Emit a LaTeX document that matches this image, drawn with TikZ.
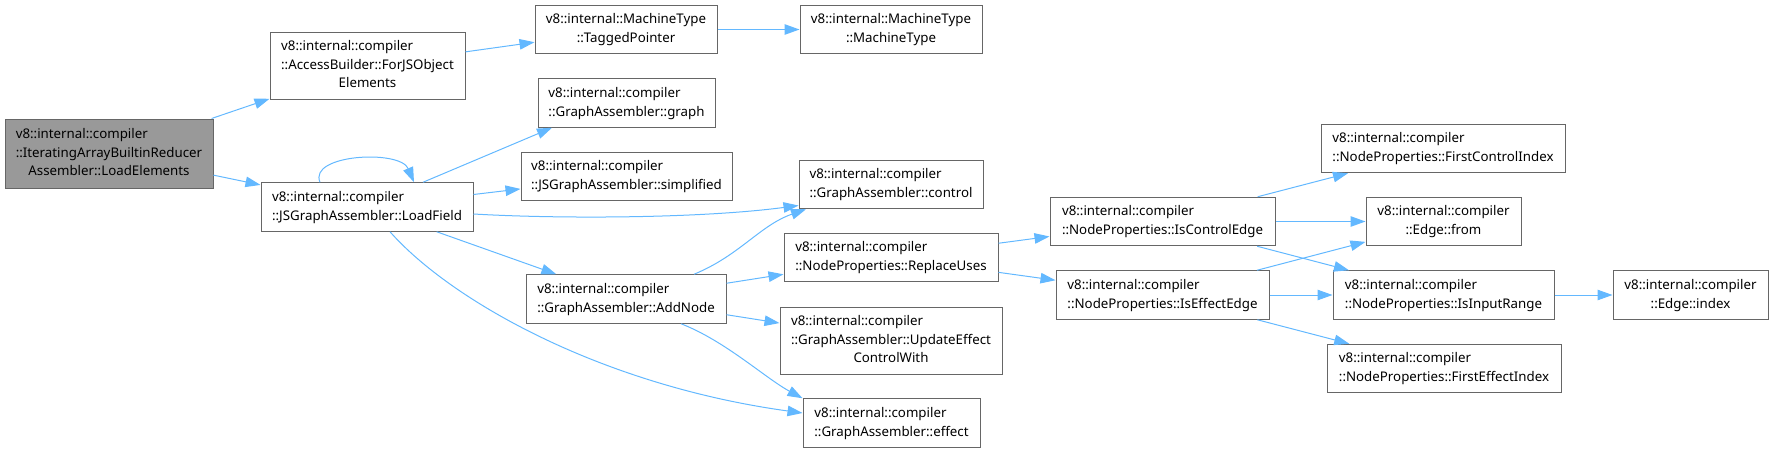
\documentclass[tikz,border=0pt]{standalone}
\usepackage{fontspec}
\setmainfont{Noto Sans}
\usepackage{xcolor}
\usepackage{tikz}
\usetikzlibrary{arrows.meta, calc}
\definecolor{callblue}{RGB}{99,184,255}
\definecolor{boxgray}{RGB}{102,102,102}
\definecolor{focusgray}{RGB}{153,153,153}
% label: all lines left, last one centred
\newcommand{\fname}[2]{\begin{tabular}{@{}l@{}}#1\\\multicolumn{1}{@{}c@{}}{#2}\end{tabular}}
\newcommand{\fnamethree}[3]{\begin{tabular}{@{}l@{}}#1\\#2\\\multicolumn{1}{@{}c@{}}{#3}\end{tabular}}
\tikzset{
  func/.style={
    rectangle, draw=boxgray, line width=1pt, fill=white,
    inner xsep=4pt, inner ysep=0pt, minimum height=48.5pt,
    font=\fontsize{13.3pt}{18.6pt}\selectfont
  },
  func3/.style={func, minimum height=67pt},
  focus/.style={fill=focusgray},
  call/.style={draw=callblue, line width=1pt, -{Triangle[length=15pt,width=10.5pt]}},
  every edge/.style={call},
}

\begin{document}
\begin{tikzpicture}[x=1pt, y=-1pt]
  \useasboundingbox (0,0) rectangle (1773,453);

  \node[func3, focus, minimum width=208pt, minimum height=69pt] (LOADELEM) at (109,153.5)
    {\fnamethree{v8::internal::compiler}{::IteratingArrayBuiltinReducer}{Assembler::LoadElements}};
  \node[func3, minimum width=195pt] (FORJSOBJ) at (367.5,65.5)
    {\fnamethree{v8::internal::compiler}{::AccessBuilder::ForJSObject}{Elements}};
  \node[func, minimum width=212pt] (LOADFIELD) at (367,207)
    {\fname{v8::internal::compiler}{::JSGraphAssembler::LoadField}};

  \node[func, minimum width=182pt] (TAGPTR) at (626,29.5)
    {\fname{v8::internal::MachineType}{::TaggedPointer}};
  \node[func, minimum width=177pt] (GRAPH) at (626.5,103)
    {\fname{v8::internal::compiler}{::GraphAssembler::graph}};
  \node[func, minimum width=211pt] (SIMPL) at (626.5,176.5)
    {\fname{v8::internal::compiler}{::JSGraphAssembler::simplified}};
  \node[func, minimum width=200pt] (ADDNODE) at (626,299)
    {\fname{v8::internal::compiler}{::GraphAssembler::AddNode}};

  \node[func, minimum width=182pt] (MTYPE) at (891,29.5)
    {\fname{v8::internal::MachineType}{::MachineType}};
  \node[func, minimum width=184pt] (CONTROL) at (891,184.5)
    {\fname{v8::internal::compiler}{::GraphAssembler::control}};
  \node[func, minimum width=214pt] (REPLACE) at (891,257.5)
    {\fname{v8::internal::compiler}{::NodeProperties::ReplaceUses}};
  \node[func3, minimum width=222pt] (UPDATE) at (891,340.5)
    {\fnamethree{v8::internal::compiler}{::GraphAssembler::UpdateEffect}{ControlWith}};
  \node[func, minimum width=177pt] (EFFECT) at (891.5,423)
    {\fname{v8::internal::compiler}{::GraphAssembler::effect}};

  \node[func, minimum width=225pt] (ISCTRL) at (1162.5,221.5)
    {\fname{v8::internal::compiler}{::NodeProperties::IsControlEdge}};
  \node[func, minimum width=213pt] (ISEFF) at (1162.5,295)
    {\fname{v8::internal::compiler}{::NodeProperties::IsEffectEdge}};

  \node[func, minimum width=244pt] (FIRSTCTRL) at (1443,148.5)
    {\fname{v8::internal::compiler}{::NodeProperties::FirstControlIndex}};
  \node[func, minimum width=155pt] (FROM) at (1443.5,221.5)
    {\fname{v8::internal::compiler}{::Edge::from}};
  \node[func, minimum width=221pt] (ISINPUT) at (1443.5,295)
    {\fname{v8::internal::compiler}{::NodeProperties::IsInputRange}};
  \node[func, minimum width=234pt] (FIRSTEFF) at (1444,368.5)
    {\fname{v8::internal::compiler}{::NodeProperties::FirstEffectIndex}};
  \node[func, minimum width=155pt] (INDEX) at (1690.5,295)
    {\fname{v8::internal::compiler}{::Edge::index}};

  \path (LOADELEM) edge (FORJSOBJ)
        (LOADELEM) edge (LOADFIELD)
        (FORJSOBJ) edge (TAGPTR)
        (TAGPTR) edge (MTYPE)
        (LOADFIELD) edge (SIMPL)
        (LOADFIELD) edge (ADDNODE)
        (ADDNODE) edge (REPLACE)
        (ADDNODE) edge (UPDATE)
        (REPLACE) edge (ISCTRL)
        (REPLACE) edge (ISEFF)
        (ISCTRL) edge (FIRSTCTRL)
        (ISCTRL) edge (FROM)
        (ISCTRL) edge (ISINPUT)
        (ISEFF) edge (FROM)
        (ISEFF) edge (ISINPUT)
        (ISEFF) edge (FIRSTEFF)
        (ISINPUT) edge (INDEX);

  % curved calls
  \draw[call] ([xshift=-47pt]LOADFIELD.north) .. controls +(-12,-28) and +(-14,-33) .. ([xshift=47pt]LOADFIELD.north);
  \draw[call] ([xshift=56pt]LOADFIELD.north) -- ([xshift=-74.5pt]GRAPH.south);
  \draw[call] ([yshift=-7pt]LOADFIELD.east) .. controls +(86,5) and +(-98,13) .. ([yshift=-21pt]CONTROL.west);
  \draw[call] ([xshift=23pt]LOADFIELD.south) .. controls +(60,68) and +(-203,-28) .. ([yshift=10pt]EFFECT.west);
  \draw[call] ([xshift=68pt]ADDNODE.north) .. controls +(46,-19) and +(-46,16) .. ([xshift=-85pt]CONTROL.south);
  \draw[call] ([xshift=55pt]ADDNODE.south) .. controls +(44,17) and +(-37,-20) .. (EFFECT.north west);
\end{tikzpicture}
\end{document}
